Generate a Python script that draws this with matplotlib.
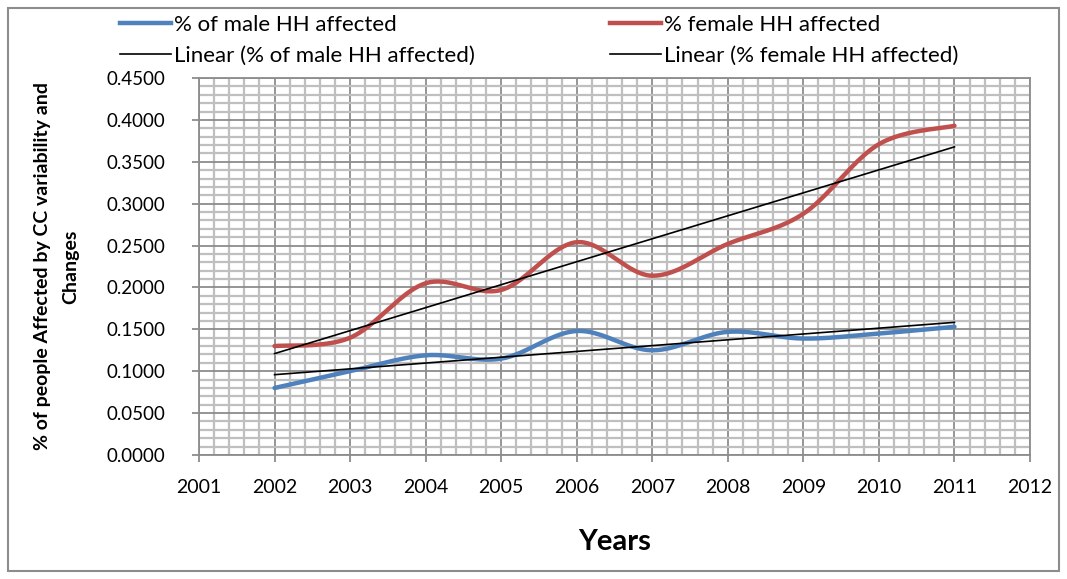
import matplotlib.pyplot as plt
import numpy as np
from matplotlib.lines import Line2D
from matplotlib.patches import Rectangle
from matplotlib.ticker import MultipleLocator, FormatStrFormatter

plt.rcParams['font.family'] = ['Lato', 'DejaVu Sans']

years = [2002, 2003, 2004, 2005, 2006, 2007, 2008, 2009, 2010, 2011]
male = [0.080, 0.100, 0.119, 0.115, 0.148, 0.125, 0.147, 0.139, 0.145, 0.153]
female = [0.130, 0.140, 0.205, 0.197, 0.254, 0.214, 0.252, 0.288, 0.371, 0.393]
x_ticks = list(range(2001, 2013))

male_label = '% of male HH affected'
female_label = '% female HH affected'
male_trend_label = 'Linear (% of male HH affected)'
female_trend_label = 'Linear (% female HH affected)'

BLUE = '#4F81BD'
RED = '#C0504D'


def smooth(x, y, n=40):
    # excel-style smoothed line (catmull-rom as cubic bezier)
    x = np.asarray(x, float)
    y = np.asarray(y, float)
    px = np.concatenate([[x[0]], x, [x[-1]]])
    py = np.concatenate([[y[0]], y, [y[-1]]])
    t = np.linspace(0, 1, n)
    xs, ys = [], []
    for i in range(1, len(px) - 2):
        p0 = np.array([px[i], py[i]])
        p3 = np.array([px[i + 1], py[i + 1]])
        p1 = p0 + (p3 - np.array([px[i - 1], py[i - 1]])) / 6
        p2 = p3 - (np.array([px[i + 2], py[i + 2]]) - p0) / 6
        pts = ((1 - t) ** 3)[:, None] * p0 + (3 * (1 - t) ** 2 * t)[:, None] * p1 \
            + (3 * (1 - t) * t ** 2)[:, None] * p2 + (t ** 3)[:, None] * p3
        xs.append(pts[:, 0])
        ys.append(pts[:, 1])
    return np.concatenate(xs), np.concatenate(ys)


fig = plt.figure(figsize=(10.67, 5.79), dpi=100)
ax = fig.add_axes([199 / 1067, 1 - 455 / 579, (1030 - 199) / 1067, (455 - 78) / 579])

sx, sy = smooth(years, male)
ax.plot(sx, sy, color=BLUE, lw=3.2, solid_capstyle='round', zorder=3)
sx, sy = smooth(years, female)
ax.plot(sx, sy, color=RED, lw=3.2, solid_capstyle='round', zorder=3)

yr = np.array(years)
for vals in (male, female):
    k, b = np.polyfit(yr, vals, 1)
    ax.plot(yr[[0, -1]], k * yr[[0, -1]] + b, color='black', lw=1.2, zorder=4)

ax.set_xlim(2001, 2012)
ax.set_ylim(0, 0.45)
ax.set_xticks(x_ticks)
ax.set_xticklabels([str(v) for v in x_ticks])
ax.xaxis.set_minor_locator(MultipleLocator(0.2))
ax.yaxis.set_major_locator(MultipleLocator(0.05))
ax.yaxis.set_minor_locator(MultipleLocator(0.01))
ax.yaxis.set_major_formatter(FormatStrFormatter('%.4f'))

ax.grid(which='minor', color='#BFBFBF', lw=1.6, zorder=0)
ax.grid(which='major', color='#8C8C8C', lw=1.3, zorder=1)
ax.set_axisbelow(True)
for s in ax.spines.values():
    s.set_color('#8C8C8C')
    s.set_linewidth(1.3)
ax.tick_params(which='major', direction='out', length=5, width=1.3, color='#8C8C8C',
               labelsize=13.5, colors='#8C8C8C', labelcolor='black')
ax.tick_params(axis='x', which='major', labelsize=14, pad=12)
ax.tick_params(axis='y', which='major', pad=19)
ax.tick_params(which='minor', length=0)

ax.set_xlabel('Years', fontsize=21, fontweight='bold', labelpad=24)
ax.set_ylabel('% of people Affected by CC variability and\nChanges', fontsize=14,
              fontweight='bold', labelpad=20, linespacing=1.75)

h_male = Line2D([], [], color=BLUE, lw=3.2)
h_female = Line2D([], [], color=RED, lw=3.2)
h_trend = Line2D([], [], color='black', lw=1.2)
leg_kw = dict(loc='upper left', frameon=False, fontsize=16, handlelength=2.3,
              handletextpad=0.15, labelspacing=0.5, borderpad=0, borderaxespad=0)
fig.legend([h_male, h_trend], [male_label, male_trend_label],
           bbox_to_anchor=(120 / 1067, 1 - 15 / 579), **leg_kw)
fig.legend([h_female, h_trend], [female_label, female_trend_label],
           bbox_to_anchor=(610 / 1067, 1 - 15 / 579), **leg_kw)

fig.patches.append(Rectangle((8 / 1067, 8 / 579), 1051 / 1067, 563 / 579,
                             transform=fig.transFigure, fill=False,
                             edgecolor='#8C8C8C', lw=1.5))

plt.savefig('out.png', dpi=100)
plt.close()
